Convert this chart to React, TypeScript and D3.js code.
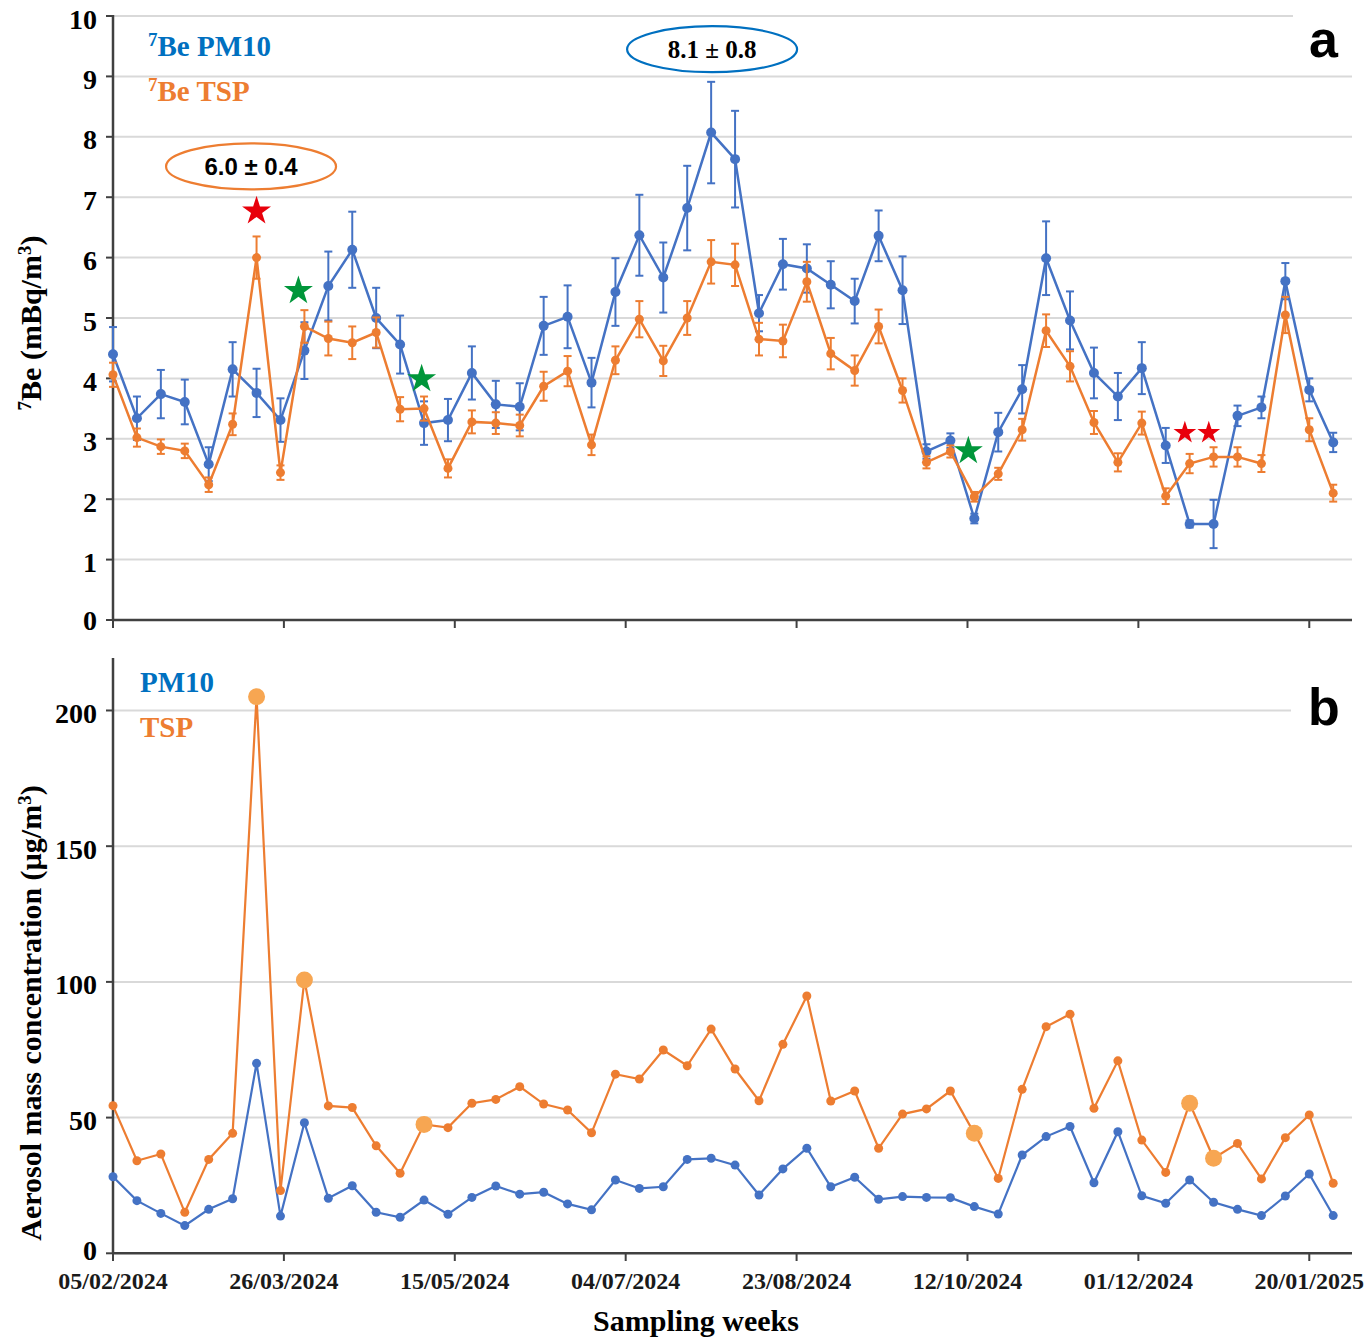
import React from 'react';
import * as d3 from 'd3';

// ---------- DATA ----------
const START_DATE = '2024-02-05';
const WEEK_COUNT = 52;
const tickLabels = ['05/02/2024', '26/03/2024', '15/05/2024', '04/07/2024', '23/08/2024', '12/10/2024', '01/12/2024', '20/01/2025'];

const be7PM10 = [4.40, 3.34, 3.74, 3.61, 2.58, 4.15, 3.76, 3.31, 4.46, 5.53, 6.13, 5.00, 4.56, 3.26, 3.31, 4.09, 3.57, 3.53, 4.87, 5.02, 3.93, 5.43, 6.37, 5.67, 6.82, 8.07, 7.63, 5.08, 5.89, 5.82, 5.55, 5.28, 6.36, 5.46, 2.79, 2.97, 1.68, 3.11, 3.82, 5.99, 4.96, 4.09, 3.70, 4.17, 2.89, 1.59, 1.59, 3.38, 3.52, 5.61, 3.81, 2.94];
const be7PM10Err = [0.45, 0.36, 0.40, 0.37, 0.28, 0.45, 0.40, 0.36, 0.47, 0.57, 0.63, 0.50, 0.48, 0.36, 0.35, 0.44, 0.39, 0.39, 0.48, 0.52, 0.41, 0.56, 0.67, 0.58, 0.70, 0.84, 0.80, 0.30, 0.42, 0.40, 0.39, 0.37, 0.42, 0.56, 0.12, 0.12, 0.08, 0.32, 0.40, 0.61, 0.48, 0.42, 0.39, 0.43, 0.29, 0.06, 0.40, 0.17, 0.18, 0.30, 0.19, 0.16];
const be7TSP = [4.06, 3.02, 2.87, 2.80, 2.24, 3.24, 6.00, 2.44, 4.86, 4.66, 4.59, 4.76, 3.49, 3.50, 2.51, 3.28, 3.26, 3.22, 3.87, 4.12, 2.90, 4.30, 4.98, 4.29, 5.00, 5.93, 5.88, 4.65, 4.62, 5.60, 4.41, 4.13, 4.86, 3.80, 2.61, 2.79, 2.04, 2.42, 3.15, 4.79, 4.20, 3.27, 2.61, 3.26, 2.05, 2.59, 2.70, 2.70, 2.59, 5.05, 3.15, 2.10];
const be7TSPErr = [0.20, 0.15, 0.12, 0.12, 0.12, 0.18, 0.35, 0.12, 0.27, 0.28, 0.27, 0.25, 0.20, 0.20, 0.15, 0.19, 0.18, 0.18, 0.24, 0.25, 0.17, 0.23, 0.30, 0.25, 0.28, 0.36, 0.35, 0.27, 0.27, 0.33, 0.26, 0.25, 0.28, 0.20, 0.10, 0.10, 0.08, 0.10, 0.18, 0.27, 0.25, 0.19, 0.15, 0.19, 0.13, 0.16, 0.16, 0.16, 0.14, 0.30, 0.19, 0.14];

const massPM10 = [28.2, 19.4, 14.7, 10.2, 16.2, 20.1, 70.0, 13.7, 48.1, 20.3, 24.9, 15.1, 13.3, 19.6, 14.4, 20.6, 24.8, 21.8, 22.5, 18.2, 16.0, 27.0, 23.9, 24.5, 34.6, 35.0, 32.5, 21.5, 31.1, 38.7, 24.5, 28.0, 19.9, 20.9, 20.6, 20.5, 17.2, 14.5, 36.2, 43.0, 46.7, 26.0, 44.8, 21.2, 18.4, 27.0, 18.8, 16.2, 13.9, 21.1, 29.2, 13.9];
const massTSP = [54.4, 34.1, 36.6, 15.1, 34.6, 44.2, 205.1, 23.1, 100.7, 54.3, 53.7, 39.6, 29.5, 47.5, 46.3, 55.3, 56.7, 61.4, 55.0, 52.8, 44.4, 66.0, 64.2, 74.9, 69.1, 82.6, 67.9, 56.2, 77.0, 94.8, 56.1, 59.8, 38.7, 51.3, 53.2, 59.8, 44.2, 27.6, 60.4, 83.5, 88.1, 53.4, 70.9, 41.7, 29.8, 55.3, 35.0, 40.5, 27.4, 42.6, 51.0, 25.8];
const highlightedWeeks = [6, 8, 13, 36, 45, 46];

const topYTicks = [0, 1, 2, 3, 4, 5, 6, 7, 8, 9, 10];
const bottomYTicks = [0, 50, 100, 150, 200];

// annotations
const stars = [
  { pos: 6, value: 6.77, color: '#E8000B', size: 260 },
  { pos: 7.75, value: 5.45, color: '#00963A', size: 260 },
  { pos: 12.9, value: 3.99, color: '#00963A', size: 260 },
  { pos: 35.75, value: 2.80, color: '#00963A', size: 260 },
  { pos: 44.8, value: 3.10, color: '#E8000B', size: 160 },
  { pos: 45.8, value: 3.10, color: '#E8000B', size: 160 },
];
const ellipseNotes = [
  { pos: 5.77, value: 7.51, text: '6.0 ± 0.4', color: '#ED7D31', font: 'sans' },
  { pos: 25.04, value: 9.45, text: '8.1 ± 0.8', color: '#0070C0', font: 'serif' },
];

// ---------- STYLE ----------
const BLUE = '#4472C4';
const BLUE_TEXT = '#0070C0';
const ORANGE = '#ED7D31';
const ORANGE_BIG = '#F7A652';
const GRID = '#d9d9d9';
const AXIS = '#404040';
const SERIF = "'Liberation Serif', 'Times New Roman', serif";
const SANS = "'Liberation Sans', Arial, sans-serif";
const WEEK_MS = 7 * 86400000;

export default function App() {
  const start = d3.utcParse('%Y-%m-%d')(START_DATE) as Date;
  const parseTick = d3.utcParse('%d/%m/%Y');
  const dates = d3.range(WEEK_COUNT).map((i) => d3.utcDay.offset(start, 7 * i));
  const x = d3.scaleUtc()
    .domain([start, new Date(start.getTime() + 362.5 * 86400000)])
    .range([113, 1352]);
  const xPos = (p: number) => x(new Date(start.getTime() + p * WEEK_MS));
  const yTop = d3.scaleLinear().domain([0, 10]).range([620, 16]);
  const yBot = d3.scaleLinear().domain([0, 220]).range([1253.3, 656.2]);
  const tickXs = tickLabels.map((t) => x(parseTick(t) as Date));

  const lineTop = (vals: number[]) =>
    d3.line<number>().x((_, i) => x(dates[i])).y((v) => yTop(v))(vals) || '';
  const lineBot = (vals: number[]) =>
    d3.line<number>().x((_, i) => x(dates[i])).y((v) => yBot(v))(vals) || '';

  const xL = 113, xR = 1352;

  const errorBars = (vals: number[], errs: number[], color: string) =>
    vals.map((v, i) => {
      const cx = x(dates[i]);
      const y1 = yTop(v + errs[i]);
      const y2 = yTop(v - errs[i]);
      return (
        <g key={i} stroke={color} strokeWidth={2}>
          <line x1={cx} x2={cx} y1={y1} y2={y2} />
          <line x1={cx - 4} x2={cx + 4} y1={y1} y2={y1} />
          <line x1={cx - 4} x2={cx + 4} y1={y2} y2={y2} />
        </g>
      );
    });

  return (
    <svg width={1368} height={1337} style={{ position: 'absolute', left: 0, top: 0, background: '#fff' }}>
      <rect x={0} y={0} width={1368} height={1337} fill="#fff" />

      {/* ---------- Panel a ---------- */}
      {topYTicks.filter((t) => t > 0).map((t) => (
        <line key={'gt' + t} x1={xL} x2={xR} y1={yTop(t)} y2={yTop(t)} stroke={GRID} strokeWidth={2} />
      ))}
      <rect x={1293} y={6} width={75} height={56} fill="#fff" />
      <text x={1309} y={57} fontFamily={SANS} fontWeight="bold" fontSize={52} fill="#000">a</text>

      {/* axes */}
      <line x1={xL} x2={xL} y1={15} y2={620} stroke={AXIS} strokeWidth={2.5} />
      <line x1={xL} x2={xR} y1={620} y2={620} stroke={AXIS} strokeWidth={2.5} />
      {topYTicks.map((t) => (
        <g key={'yt' + t}>
          <line x1={106} x2={xL} y1={yTop(t)} y2={yTop(t)} stroke={AXIS} strokeWidth={2} />
          <text x={97} y={yTop(t) + (t === 0 ? 0 : 3)} dominantBaseline="central" textAnchor="end" fontFamily={SERIF} fontWeight="bold" fontSize={28} fill="#000">{t}</text>
        </g>
      ))}
      {tickXs.map((tx, i) => (
        <line key={'xt' + i} x1={tx} x2={tx} y1={620} y2={628} stroke={AXIS} strokeWidth={2} />
      ))}
      <text transform="translate(41,323) rotate(-90)" textAnchor="middle" fontFamily={SERIF} fontWeight="bold" fontSize={30} fill="#000">
        <tspan fontSize={19} dy={-10}>7</tspan>
        <tspan dy={10}>Be (mBq/m</tspan>
        <tspan fontSize={19} dy={-10}>3</tspan>
        <tspan dy={10}>)</tspan>
      </text>

      {/* legend a */}
      <text x={148} y={56} fontFamily={SERIF} fontWeight="bold" fontSize={29} fill={BLUE_TEXT}>
        <tspan fontSize={19} dy={-10}>7</tspan><tspan dy={10}>Be PM10</tspan>
      </text>
      <text x={148} y={101} fontFamily={SERIF} fontWeight="bold" fontSize={29} fill={ORANGE}>
        <tspan fontSize={19} dy={-10}>7</tspan><tspan dy={10}>Be TSP</tspan>
      </text>

      {/* series a */}
      <path d={lineTop(be7PM10)} fill="none" stroke={BLUE} strokeWidth={2.5} />
      {errorBars(be7PM10, be7PM10Err, BLUE)}
      {be7PM10.map((v, i) => <circle key={'bp' + i} cx={x(dates[i])} cy={yTop(v)} r={5} fill={BLUE} />)}
      <path d={lineTop(be7TSP)} fill="none" stroke={ORANGE} strokeWidth={2.5} />
      {errorBars(be7TSP, be7TSPErr, ORANGE)}
      {be7TSP.map((v, i) => <circle key={'op' + i} cx={x(dates[i])} cy={yTop(v)} r={4.5} fill={ORANGE} />)}

      {/* annotations */}
      {stars.map((s, i) => (
        <path key={'st' + i} d={d3.symbol(d3.symbolStar, s.size)() || ''} transform={`translate(${xPos(s.pos)},${yTop(s.value)})`} fill={s.color} />
      ))}
      {ellipseNotes.map((e, i) => (
        <g key={'el' + i}>
          <ellipse cx={xPos(e.pos)} cy={yTop(e.value)} rx={85} ry={23} fill="#fff" stroke={e.color} strokeWidth={2.2} />
          <text x={xPos(e.pos)} y={yTop(e.value) + 9} textAnchor="middle" fontFamily={e.font === 'sans' ? SANS : SERIF} fontWeight="bold" fontSize={e.font === 'sans' ? 24 : 25} fill="#000">{e.text}</text>
        </g>
      ))}

      {/* ---------- Panel b ---------- */}
      {bottomYTicks.filter((t) => t > 0).map((t) => (
        <line key={'gb' + t} x1={xL} x2={xR} y1={yBot(t)} y2={yBot(t)} stroke={GRID} strokeWidth={2} />
      ))}
      <rect x={1291} y={680} width={77} height={60} fill="#fff" />
      <text x={1308} y={725} fontFamily={SANS} fontWeight="bold" fontSize={52} fill="#000">b</text>

      <line x1={xL} x2={xL} y1={658} y2={1253.3} stroke={AXIS} strokeWidth={2.5} />
      <line x1={xL} x2={xR} y1={1253.3} y2={1253.3} stroke={AXIS} strokeWidth={2.5} />
      {bottomYTicks.map((t) => (
        <g key={'ybt' + t}>
          <line x1={106} x2={xL} y1={yBot(t)} y2={yBot(t)} stroke={AXIS} strokeWidth={2} />
          <text x={97} y={yBot(t) + (t === 0 ? -3 : 3)} dominantBaseline="central" textAnchor="end" fontFamily={SERIF} fontWeight="bold" fontSize={28} fill="#000">{t}</text>
        </g>
      ))}
      {tickXs.map((tx, i) => (
        <g key={'xbt' + i}>
          <line x1={tx} x2={tx} y1={1253.3} y2={1261} stroke={AXIS} strokeWidth={2} />
          <text x={tx} y={1289} textAnchor="middle" fontFamily={SERIF} fontWeight="bold" fontSize={24} fill="#1a1a1a">{tickLabels[i]}</text>
        </g>
      ))}
      <text transform="translate(41,1013) rotate(-90)" textAnchor="middle" fontFamily={SERIF} fontWeight="bold" fontSize={30} fill="#000">
        <tspan>Aerosol mass concentration (µg/m</tspan>
        <tspan fontSize={19} dy={-10}>3</tspan>
        <tspan dy={10}>)</tspan>
      </text>
      <text x={696} y={1331} textAnchor="middle" fontFamily={SERIF} fontWeight="bold" fontSize={30} fill="#000">Sampling weeks</text>

      <text x={140} y={692} fontFamily={SERIF} fontWeight="bold" fontSize={29} fill={BLUE_TEXT}>PM10</text>
      <text x={140} y={737} fontFamily={SERIF} fontWeight="bold" fontSize={29} fill={ORANGE}>TSP</text>

      <path d={lineBot(massPM10)} fill="none" stroke={BLUE} strokeWidth={2.2} />
      {massPM10.map((v, i) => <circle key={'bm' + i} cx={x(dates[i])} cy={yBot(v)} r={4.5} fill={BLUE} />)}
      <path d={lineBot(massTSP)} fill="none" stroke={ORANGE} strokeWidth={2.2} />
      {massTSP.map((v, i) => (
        highlightedWeeks.includes(i)
          ? <circle key={'om' + i} cx={x(dates[i])} cy={yBot(v)} r={8.5} fill={ORANGE_BIG} />
          : <circle key={'om' + i} cx={x(dates[i])} cy={yBot(v)} r={4.5} fill={ORANGE} />
      ))}
    </svg>
  );
}
